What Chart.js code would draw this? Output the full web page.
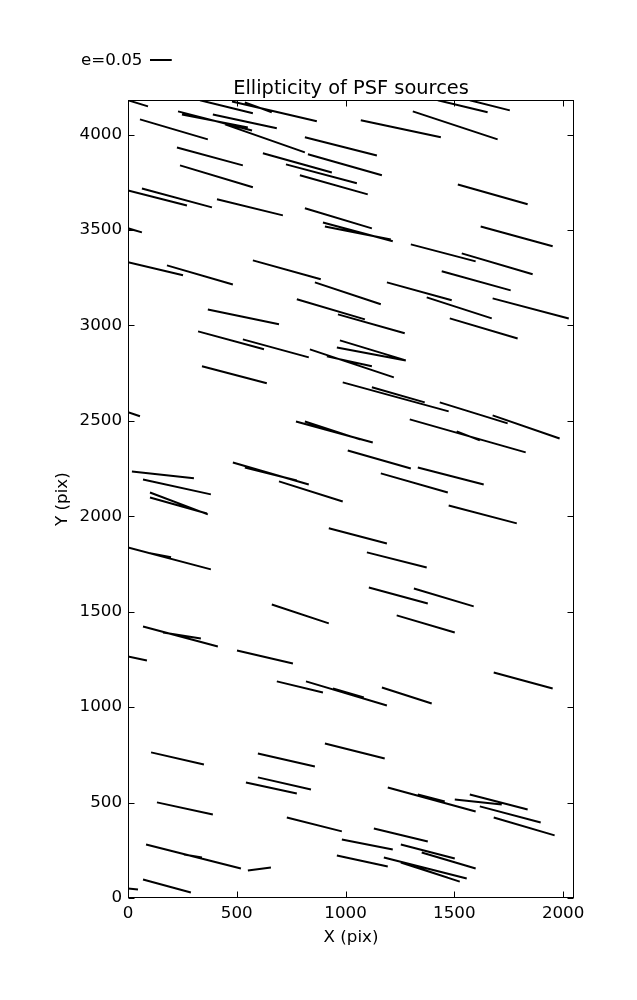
<!DOCTYPE html>
<html>
<head>
<meta charset="utf-8">
<script src="https://cdn.jsdelivr.net/npm/chart.js"></script>
<style>body{margin:0;background:#fff}</style>
</head>
<body>
<canvas id="psfChart" width="637" height="1000"></canvas>
<script>
  // whisker end points (pix), one entry per PSF source
  var x1 = [0,331,230,248,390,55,478,537,446,813,
    1424,1571,1070,1309,225,239,620,726,790,827,
    1516,0,64,409,813,896,905,0,1621,1300,
    1534,0,179,574,1442,859,1190,1373,1676,367,
    776,965,1479,322,528,974,960,340,836,914,
    987,1121,1433,1676,1295,1511,0,772,813,1010,
    1332,1162,482,537,18,69,101,101,694,1474,
    923,0,101,1098,661,1107,1314,1235,69,161,
    0,501,1681,684,818,942,1167,106,597,905,
    597,542,133,730,983,960,83,257,551,69,
    0,1194,1332,1502,1571,1617,1681,1130,1254,1350,1176,1254,1286];
  var y1 = [4180,4180,4122,4106,4106,4080,4174,4169,4054,3986,
    4180,4180,4075,4122,3933,3839,3902,3844,3787,3897,
    3739,3708,3718,3661,3614,3540,3519,3509,3519,3425,
    3378,3331,3315,3341,3284,3226,3226,3147,3142,3084,
    3137,3058,3037,2969,2927,2922,2885,2786,2875,2838,
    2702,2676,2597,2529,2508,2445,2545,2497,2497,2345,
    2256,2225,2282,2256,2235,2193,2125,2099,2183,2057,
    1937,1837,1806,1811,1538,1627,1622,1481,1423,1391,
    1266,1297,1182,1135,1135,1098,1103,763,757,810,
    632,605,501,422,307,223,280,228,144,97,
    50,579,542,516,542,480,422,364,280,238,212,186,176];
  var x2 = [92,574,570,551,684,367,868,661,813,1144,
    1653,1755,1438,1699,528,574,937,1052,1102,1167,
    1837,271,386,712,1121,1217,1208,64,1952,1598,
    1860,253,482,886,1759,1162,1488,1672,2026,694,
    1089,1272,1791,625,831,1277,1277,638,1222,1121,
    1474,1364,1745,1984,1828,1617,55,1125,1066,1300,
    1635,1470,831,776,303,381,367,363,987,1787,
    1190,381,198,1373,923,1378,1589,1502,413,335,
    87,758,1952,896,1190,1084,1396,349,859,1180,
    841,776,390,983,1217,1194,519,340,657,289,
    46,1598,1456,1718,1837,1897,1961,1378,1502,1598,1557,1525,1470];
  var y2 = [4148,4112,4022,4038,4033,3975,4070,4117,3907,3891,
    4117,4127,3986,3975,3839,3724,3802,3745,3687,3787,
    3635,3629,3619,3577,3509,3441,3451,3488,3415,3336,
    3268,3263,3215,3242,3184,3111,3132,3037,3037,3006,
    3032,2959,2932,2875,2833,2817,2817,2697,2728,2786,
    2550,2597,2487,2408,2335,2398,2524,2387,2403,2251,
    2167,2125,2167,2188,2199,2115,2010,2015,2078,1963,
    1858,1722,1785,1732,1439,1543,1528,1391,1318,1360,
    1245,1229,1098,1077,1009,1051,1019,700,689,731,
    569,548,438,349,254,165,155,212,160,29,
    45,453,506,490,464,396,328,296,207,155,102,86,107];

  var xTicks = [0, 500, 1000, 1500, 2000];
  var yTicks = [0, 500, 1000, 1500, 2000, 2500, 3000, 3500, 4000];
  var keyE = 0.05;          // reference ellipticity
  var whiskerScale = 2000;  // pix per unit ellipticity

  var FONT = 'DejaVu Sans';

  // one dataset, segments split by null points
  var points = [];
  for (var i = 0; i < x1.length; i++) {
    points.push({ x: x1[i], y: y1[i] });
    points.push({ x: x2[i], y: y2[i] });
    points.push({ x: x2[i], y: null });
  }

  // box, inward ticks and the e=0.05 key
  var framePlugin = {
    id: 'frame',
    afterDatasetsDraw: function(chart) {
      var ctx = chart.ctx;
      var a = chart.chartArea;
      var xs = chart.scales.x, ys = chart.scales.y;
      var L = Math.round(a.left) + 0.5, R = Math.round(a.right) - 0.5;
      var T = Math.round(a.top) + 0.5, B = Math.round(a.bottom) - 0.5;
      ctx.save();
      ctx.strokeStyle = '#000';
      ctx.lineWidth = 1;
      ctx.strokeRect(L, T, R - L, B - T);
      ctx.beginPath();
      xTicks.forEach(function(v) {
        var p = Math.round(xs.getPixelForValue(v)) + 0.5;
        ctx.moveTo(p, B); ctx.lineTo(p, B - 6);
        ctx.moveTo(p, T); ctx.lineTo(p, T + 6);
      });
      yTicks.forEach(function(v) {
        var p = Math.round(ys.getPixelForValue(v)) + 0.5;
        ctx.moveTo(L, p); ctx.lineTo(L + 6, p);
        ctx.moveTo(R, p); ctx.lineTo(R - 6, p);
      });
      ctx.stroke();

      // key
      var keyLen = xs.getPixelForValue(keyE * whiskerScale) - xs.getPixelForValue(0);
      ctx.fillStyle = '#000';
      ctx.font = '16.7px "' + FONT + '"';
      ctx.textBaseline = 'middle';
      ctx.textAlign = 'left';
      ctx.fillText('e=' + keyE.toFixed(2), 81, 61);
      ctx.lineWidth = 2;
      ctx.beginPath();
      ctx.moveTo(150, 60);
      ctx.lineTo(150 + keyLen, 60);
      ctx.stroke();
      ctx.restore();
    }
  };

  var ctx = document.getElementById('psfChart').getContext('2d');
  var psfChart = new Chart(ctx, {
    type: 'scatter',
    data: {
      datasets: [{
        data: points,
        showLine: true,
        spanGaps: false,
        borderColor: '#000',
        backgroundColor: '#000',
        borderWidth: 2,
        borderCapStyle: 'butt',
        pointRadius: 0,
        pointHoverRadius: 0
      }]
    },
    options: {
      responsive: false,
      animation: false,
      layout: { padding: { left: 0, right: 63, top: 0, bottom: 0 } },
      plugins: {
        legend: { display: false },
        tooltip: { enabled: false },
        title: {
          display: true,
          text: 'Ellipticity of PSF sources',
          fullSize: false,
          color: '#000',
          font: { family: FONT, size: 19.4, weight: 'normal' },
          padding: { top: 77, bottom: 0 }
        }
      },
      scales: {
        x: {
          type: 'linear',
          min: 0,
          max: 2050,
          grid: { display: false, drawTicks: false },
          border: { display: false },
          ticks: {
            color: '#000',
            font: { family: FONT, size: 16.7 },
            padding: 6,
            maxRotation: 0,
            callback: function(v) { return String(v); }
          },
          afterBuildTicks: function(s) { s.ticks = xTicks.map(function(v) { return { value: v }; }); },
          afterFit: function(s) { s.height = 102; },
          title: {
            display: true,
            text: 'X (pix)',
            color: '#000',
            font: { family: FONT, size: 16.7 },
            padding: { top: 0, bottom: 52 }
          }
        },
        y: {
          type: 'linear',
          min: 0,
          max: 4180,
          grid: { display: false, drawTicks: false },
          border: { display: false },
          ticks: {
            color: '#000',
            font: { family: FONT, size: 16.7 },
            padding: 6,
            callback: function(v) { return String(v); }
          },
          afterBuildTicks: function(s) { s.ticks = yTicks.map(function(v) { return { value: v }; }); },
          afterFit: function(s) { s.width = 128; },
          title: {
            display: true,
            text: 'Y (pix)',
            color: '#000',
            font: { family: FONT, size: 16.7 },
            padding: { top: 53, bottom: 0 }
          }
        }
      }
    },
    plugins: [framePlugin]
  });
</script>
</body>
</html>
